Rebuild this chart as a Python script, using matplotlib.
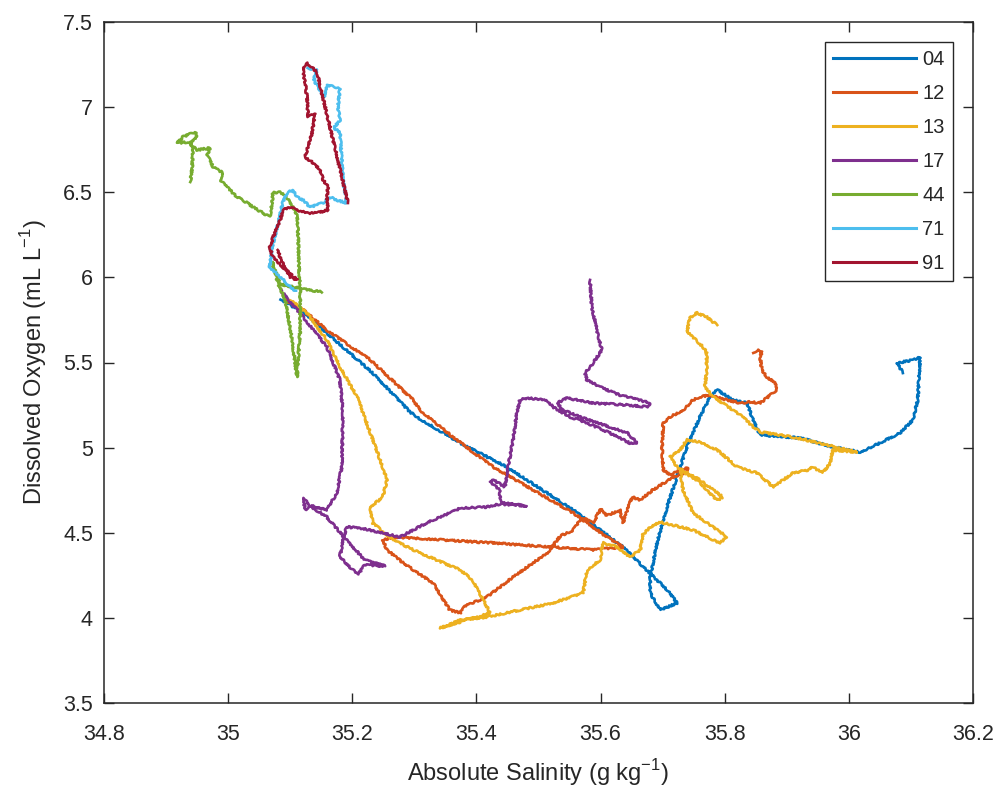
import matplotlib
matplotlib.use("Agg")
import matplotlib.pyplot as plt

plt.rcParams['font.family'] = ['Liberation Sans', 'DejaVu Sans']

labels = ["04", "12", "13", "17", "44", "71", "91"]
colors = ["#0072BD", "#D95319", "#EDB120", "#7E2F8E", "#77AC30", "#4DBEEE", "#A2142F"]

sal_04 = [36.087, 36.078, 36.103, 36.115, 36.111, 36.103, 36.082, 36.050, 36.018, 35.974, 35.921, 35.857,
          35.846, 35.836, 35.813, 35.788, 35.776, 35.760, 35.739, 35.723, 35.707, 35.691, 35.680, 35.680,
          35.696, 35.723, 35.712, 35.691, 35.636, 35.556, 35.449, 35.374, 35.304, 35.293, 35.233, 35.159,
          35.121, 35.084]
oxy_04 = [5.438, 5.497, 5.515, 5.532, 5.280, 5.162, 5.086, 5.027, 4.974, 5.004, 5.057, 5.074,
          5.162, 5.262, 5.280, 5.339, 5.297, 5.180, 5.004, 4.827, 4.651, 4.440, 4.240, 4.146,
          4.046, 4.087, 4.146, 4.222, 4.416, 4.634, 4.886, 5.027, 5.180, 5.209, 5.438, 5.673,
          5.797, 5.867]

sal_12 = [35.846, 35.852, 35.860, 35.857, 35.860, 35.868, 35.881, 35.884, 35.878, 35.857, 35.841, 35.825,
          35.804, 35.776, 35.760, 35.749, 35.733, 35.712, 35.701, 35.699, 35.701, 35.712, 35.728, 35.741,
          35.739, 35.717, 35.684, 35.664, 35.651, 35.643, 35.636, 35.631, 35.610, 35.600, 35.588, 35.570,
          35.556, 35.535, 35.514, 35.459, 35.417, 35.378, 35.374, 35.357, 35.330, 35.282, 35.256, 35.249,
          35.266, 35.427, 35.588, 35.636, 35.610, 35.556, 35.427, 35.362, 35.309, 35.298, 35.229, 35.159,
          35.121, 35.092]
oxy_12 = [5.556, 5.573, 5.562, 5.532, 5.456, 5.415, 5.380, 5.339, 5.321, 5.262, 5.268, 5.262,
          5.280, 5.309, 5.297, 5.280, 5.221, 5.180, 5.145, 5.004, 4.869, 4.839, 4.869, 4.880,
          4.851, 4.827, 4.751, 4.692, 4.710, 4.634, 4.557, 4.634, 4.600, 4.640, 4.557, 4.590,
          4.516, 4.480, 4.381, 4.240, 4.123, 4.064, 4.029, 4.046, 4.205, 4.322, 4.399, 4.457,
          4.475, 4.440, 4.399, 4.416, 4.475, 4.616, 4.886, 5.062, 5.221, 5.280, 5.515, 5.691,
          5.808, 5.867]

sal_13 = [35.788, 35.781, 35.771, 35.755, 35.744, 35.739, 35.749, 35.765, 35.771, 35.771, 35.768, 35.781,
          35.797, 35.829, 35.846, 35.857, 35.910, 35.965, 36.013, 35.974, 35.970, 35.958, 35.942, 35.933,
          35.910, 35.878, 35.852, 35.820, 35.788, 35.760, 35.739, 35.728, 35.712, 35.723, 35.760, 35.797,
          35.788, 35.755, 35.728, 35.733, 35.749, 35.788, 35.804, 35.792, 35.749, 35.696, 35.680, 35.668,
          35.664, 35.647, 35.627, 35.604, 35.599, 35.578, 35.572, 35.523, 35.470, 35.417, 35.374, 35.341,
          35.422, 35.394, 35.374, 35.309, 35.266, 35.233, 35.229, 35.249, 35.256, 35.249, 35.229, 35.208,
          35.180, 35.159, 35.127, 35.100]
oxy_13 = [5.720, 5.738, 5.767, 5.791, 5.761, 5.679, 5.650, 5.591, 5.556, 5.456, 5.356, 5.297,
          5.262, 5.180, 5.121, 5.092, 5.062, 5.015, 4.974, 4.986, 4.910, 4.851, 4.886, 4.868,
          4.851, 4.769, 4.851, 4.886, 4.986, 5.033, 5.045, 4.986, 4.945, 4.886, 4.810, 4.710,
          4.690, 4.810, 4.868, 4.751, 4.616, 4.516, 4.475, 4.440, 4.516, 4.563, 4.534, 4.487,
          4.399, 4.357, 4.416, 4.440, 4.340, 4.281, 4.146, 4.087, 4.046, 4.005, 3.987, 3.940,
          4.029, 4.222, 4.281, 4.381, 4.457, 4.557, 4.651, 4.710, 4.810, 4.886, 5.086, 5.297,
          5.474, 5.632, 5.791, 5.867]

sal_17 = [35.583, 35.586, 35.594, 35.602, 35.588, 35.575, 35.578, 35.599, 35.631, 35.680, 35.675, 35.643,
          35.588, 35.546, 35.530, 35.539, 35.567, 35.615, 35.643, 35.659, 35.647, 35.615, 35.578, 35.551,
          35.523, 35.514, 35.481, 35.470, 35.465, 35.459, 35.451, 35.446, 35.427, 35.422, 35.438, 35.438,
          35.443, 35.481, 35.438, 35.417, 35.374, 35.357, 35.330, 35.304, 35.277, 35.249, 35.212, 35.191,
          35.185, 35.180, 35.209, 35.220, 35.253, 35.220, 35.191, 35.159, 35.132, 35.121, 35.124, 35.132,
          35.159, 35.175, 35.183, 35.185, 35.180, 35.159, 35.121, 35.084]
oxy_17 = [5.985, 5.826, 5.691, 5.573, 5.497, 5.438, 5.397, 5.356, 5.309, 5.262, 5.239, 5.250,
          5.262, 5.291, 5.262, 5.221, 5.180, 5.121, 5.086, 5.027, 5.027, 5.086, 5.145, 5.180,
          5.239, 5.280, 5.291, 5.280, 5.203, 5.045, 4.886, 4.769, 4.810, 4.798, 4.751, 4.692,
          4.675, 4.657, 4.669, 4.651, 4.645, 4.616, 4.575, 4.528, 4.475, 4.499, 4.528, 4.534,
          4.457, 4.357, 4.252, 4.310, 4.304, 4.340, 4.457, 4.592, 4.657, 4.704, 4.634, 4.660,
          4.634, 4.733, 4.886, 5.203, 5.397, 5.591, 5.767, 5.926]

sal_44 = [34.939, 34.942, 34.943, 34.939, 34.950, 34.947, 34.927, 34.918, 34.934, 34.950, 34.971, 34.966,
          34.976, 34.992, 34.987, 34.998, 35.014, 35.024, 35.040, 35.056, 35.067, 35.071, 35.072, 35.084,
          35.092, 35.103, 35.111, 35.113, 35.114, 35.116, 35.116, 35.111, 35.103, 35.092, 35.080, 35.071,
          35.084, 35.116, 35.151]
oxy_44 = [6.560, 6.648, 6.748, 6.789, 6.825, 6.854, 6.825, 6.789, 6.795, 6.748, 6.760, 6.719,
          6.648, 6.613, 6.572, 6.531, 6.472, 6.454, 6.413, 6.378, 6.355, 6.437, 6.496, 6.501,
          6.478, 6.425, 6.366, 6.219, 6.073, 5.926, 5.691, 5.415, 5.632, 5.867, 5.967, 6.090,
          5.960, 5.935, 5.914]

sal_71 = [35.128, 35.143, 35.138, 35.148, 35.155, 35.160, 35.180, 35.177, 35.180, 35.170, 35.180, 35.183,
          35.185, 35.191, 35.175, 35.164, 35.153, 35.132, 35.121, 35.111, 35.104, 35.095, 35.088,
          35.084, 35.079, 35.071, 35.067, 35.084, 35.100, 35.109]
oxy_71 = [7.230, 7.218, 7.160, 7.100, 7.060, 7.130, 7.112, 7.001, 6.920, 6.880, 6.850, 6.700,
          6.572, 6.437, 6.454, 6.472, 6.437, 6.413, 6.454, 6.472, 6.513, 6.496, 6.437,
          6.378, 6.296, 6.178, 6.061, 6.002, 5.943, 5.920]

sal_91 = [35.193, 35.143, 35.127, 35.121, 35.121, 35.124, 35.127, 35.129, 35.140, 35.135, 35.124, 35.137,
          35.148, 35.153, 35.161, 35.159, 35.161, 35.143, 35.127, 35.111, 35.100, 35.088, 35.084, 35.075,
          35.067, 35.072, 35.088, 35.111, 35.100, 35.084, 35.080]
oxy_91 = [6.437, 7.206, 7.259, 7.236, 7.200, 7.142, 7.059, 6.942, 6.965, 6.848, 6.707, 6.672,
          6.631, 6.572, 6.531, 6.472, 6.396, 6.378, 6.378, 6.396, 6.413, 6.396, 6.337, 6.261,
          6.178, 6.120, 6.061, 5.985, 6.002, 6.114, 6.161]

series_sal = [sal_04, sal_12, sal_13, sal_17, sal_44, sal_71, sal_91]
series_oxy = [oxy_04, oxy_12, oxy_13, oxy_17, oxy_44, oxy_71, oxy_91]

xticks = [34.8, 35.0, 35.2, 35.4, 35.6, 35.8, 36.0, 36.2]
xticklabels = ["34.8", "35", "35.2", "35.4", "35.6", "35.8", "36", "36.2"]
yticks = [3.5, 4.0, 4.5, 5.0, 5.5, 6.0, 6.5, 7.0, 7.5]
yticklabels = ["3.5", "4", "4.5", "5", "5.5", "6", "6.5", "7", "7.5"]

fig = plt.figure(figsize=(10.06, 7.98), dpi=100)
ax = fig.add_axes([104 / 1006, 1 - 703 / 798, (973 - 104) / 1006, (703 - 22) / 798])

for s, o, lab, c in zip(series_sal, series_oxy, labels, colors):
    ln, = ax.plot(s, o, color=c, lw=1.9, label=lab)
    # rendering style only: slightly ragged stroke, like a raw CTD trace
    ln.set_sketch_params(scale=0.9, length=3.0, randomness=6.0)

ax.set_xlim(34.8, 36.2)
ax.set_ylim(3.5, 7.5)
ax.set_xticks(xticks)
ax.set_xticklabels(xticklabels)
ax.set_yticks(yticks)
ax.set_yticklabels(yticklabels)

axcol = "#262626"
for sp in ax.spines.values():
    sp.set_color(axcol)
    sp.set_linewidth(1.1)
ax.tick_params(direction='in', length=7, width=1.0, color=axcol, labelcolor=axcol,
               labelsize=15.5, top=True, right=True)
ax.tick_params(axis='x', pad=15)
ax.tick_params(axis='y', pad=8)

ax.set_xlabel("Absolute Salinity (g kg$^{\\mathregular{-1}}$)", fontsize=17, color=axcol, labelpad=9)
ax.set_ylabel("Dissolved Oxygen (mL L$^{\\mathregular{-1}}$)", fontsize=17, color=axcol, labelpad=10)

leg = ax.legend(loc='upper right', bbox_to_anchor=(953 / 1006, 1 - 42 / 798), bbox_transform=fig.transFigure,
                fontsize=14.5, frameon=True, fancybox=False, framealpha=1, edgecolor=axcol,
                handlelength=4.1, handletextpad=0.3, labelspacing=0.74, borderpad=0.42,
                borderaxespad=0)
leg.get_frame().set_linewidth(1.0)
for t in leg.get_texts():
    t.set_color(axcol)
for h in leg.get_lines():
    h.set_sketch_params(None)
    h.set_linewidth(2.2)

fig.savefig("out.png", dpi=100)
